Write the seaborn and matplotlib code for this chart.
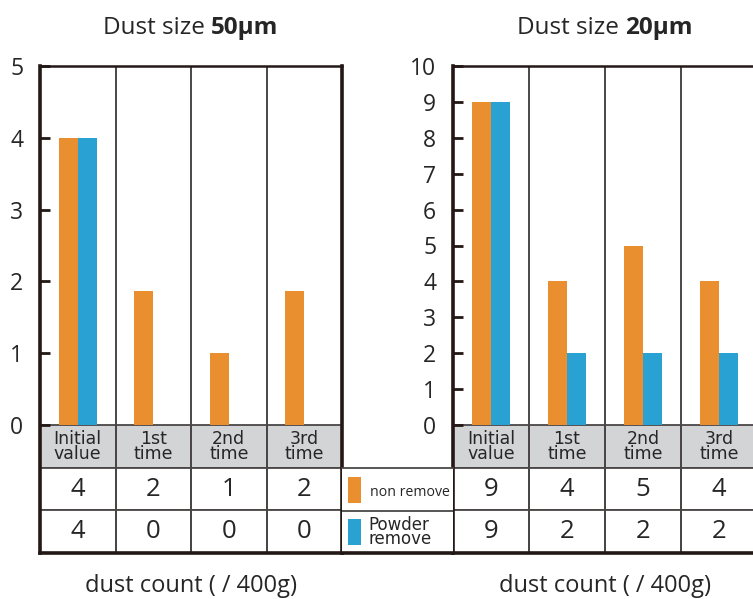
import pandas as pd
import matplotlib
matplotlib.use("Agg")
import matplotlib.pyplot as plt
import seaborn as sns
from matplotlib.patches import Rectangle

# ---- data ----
times = ["Initial\nvalue", "1st\ntime", "2nd\ntime", "3rd\ntime"]
series = ["non remove", "Powder\nremove"]

# 50 um panel: bar heights as drawn, and the counts printed in the table
bars_50_non = [4, 1.87, 1, 1.87]
bars_50_powder = [4, 0, 0, 0]
table_50_non = [4, 2, 1, 2]
table_50_powder = [4, 0, 0, 0]

# 20 um panel
bars_20_non = [9, 4, 5, 4]
bars_20_powder = [9, 2, 2, 2]
table_20_non = [9, 4, 5, 4]
table_20_powder = [9, 2, 2, 2]

orange = "#EA8F2F"
blue = "#29A1D3"
header_gray = "#D3D4D6"
dark = "#231815"
grid_gray = "#4a4646"

sns.set_style("white")
plt.rcParams["font.family"] = ["Open Sans", "DejaVu Sans"]

W, H = 753, 599
fig = plt.figure(figsize=(W / 100, H / 100), dpi=100)


def px_rect(x0, y0, x1, y1):
    return [x0 / W, 1 - y1 / H, (x1 - x0) / W, (y1 - y0) / H]


PLOT_H, TABLE_H = 359, 128   # pixel heights of bar area and table area


def panel(rect, non, powder, tab_non, tab_powder, ymax, size_txt):
    ax = fig.add_axes(rect)
    df = pd.DataFrame({
        "time": times * 2,
        "count": non + powder,
        "type": [series[0]] * 4 + [series[1]] * 4,
    })
    sns.barplot(data=df, x="time", y="count", hue="type", palette=[orange, blue],
                width=0.5, saturation=1, linewidth=0, errorbar=None,
                legend=False, ax=ax)
    ax.set_xlim(-0.5, 3.5)
    ax.set_ylim(-ymax * TABLE_H / PLOT_H, ymax)
    ax.set_yticks(range(0, ymax + 1))
    ax.set_xticks([])
    ax.set_ylabel("")
    ax.tick_params(axis="y", direction="in", length=7, width=2, color=dark,
                   labelsize=16.5, pad=12, left=True)
    for s in ["left", "right", "bottom"]:
        ax.spines[s].set_linewidth(2.6)
        ax.spines[s].set_color(dark)
    ax.spines["top"].set_linewidth(1.8)
    ax.spines["top"].set_color(dark)
    ax.spines["right"].set_visible(True)
    for x in [0.5, 1.5, 2.5]:
        ax.axvline(x, color=grid_gray, lw=1.4, zorder=0.5)

    cells = [times, [str(v) for v in tab_non], [str(v) for v in tab_powder]]
    tbl = ax.table(cellText=cells, cellLoc="center",
                   bbox=[0, 0, 1, TABLE_H / (PLOT_H + TABLE_H)])
    tbl.auto_set_font_size(False)
    for (r, c), cell in tbl.get_celld().items():
        cell.set_edgecolor(grid_gray)
        cell.set_linewidth(1.3)
        txt = cell.get_text()
        if r == 0:
            cell.set_facecolor(header_gray)
            txt.set_fontsize(12.5)
            txt.set_fontfamily("DejaVu Sans")
            txt.set_linespacing(0.78)
        else:
            txt.set_fontsize(18.5)

    ax.set_xlabel("dust count ( / 400g)", fontsize=17, labelpad=15)

    # title with a bold size part
    r = fig.canvas.get_renderer()
    t1 = ax.annotate("Dust size", xy=(0.5, 1.0), xycoords="axes fraction",
                     textcoords="offset pixels", fontsize=17.5, va="center")
    t2 = ax.annotate(size_txt, xy=(0.5, 1.0), xycoords="axes fraction",
                     textcoords="offset pixels", fontsize=17.5, va="center",
                     fontweight="bold")
    w1 = t1.get_window_extent(r).width
    w2 = t2.get_window_extent(r).width
    gap = 6
    start = -(w1 + gap + w2) / 2
    t1.set_position((start, 38))
    t2.set_position((start + w1 + gap, 38))
    return ax


ax1 = panel(px_rect(40, 66, 342, 553), bars_50_non, bars_50_powder,
            table_50_non, table_50_powder, 5, "50\u03bcm")
ax2 = panel(px_rect(453, 66, 757, 553), bars_20_non, bars_20_powder,
            table_20_non, table_20_powder, 10, "20\u03bcm")

# legend box between the two panels
lg = fig.add_axes(px_rect(342, 468, 453, 553))
lg.set_xlim(0, 1)
lg.set_ylim(0, 1)
lg.set_xticks([])
lg.set_yticks([])
for s in ["left", "right"]:
    lg.spines[s].set_visible(False)
lg.spines["top"].set_linewidth(1.3)
lg.spines["top"].set_color(grid_gray)
lg.spines["bottom"].set_linewidth(2.6)
lg.spines["bottom"].set_color(dark)
lg.axhline(0.5, color=grid_gray, lw=1.3)
lg.add_patch(Rectangle((0.054, 0.59), 0.117, 0.305, color=orange, lw=0))
lg.add_patch(Rectangle((0.054, 0.094), 0.117, 0.305, color=blue, lw=0))
lg.text(0.25, 0.71, series[0], fontsize=10.2, va="center", ha="left")
lg.text(0.235, 0.245, series[1], fontsize=12, va="center", ha="left",
        family="DejaVu Sans", linespacing=0.72)

fig.savefig("out.png", dpi=100)
